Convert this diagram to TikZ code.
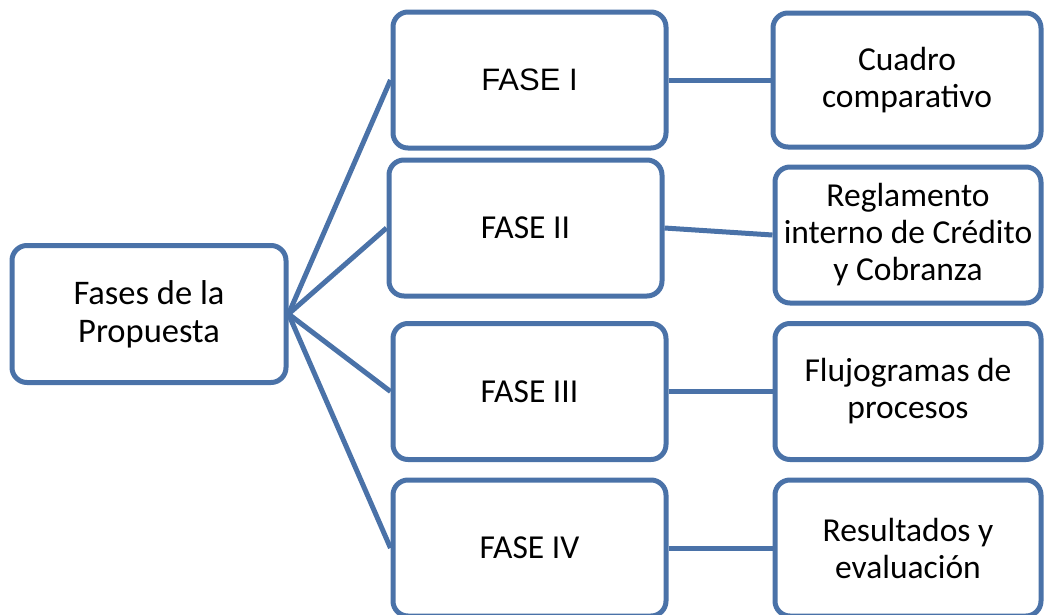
\documentclass[tikz,border=0pt]{standalone}
\usepackage{fontspec}
\setmainfont{Carlito}
\newfontfamily\arialfont{Liberation Sans}
\definecolor{boxblue}{RGB}{74,114,168}
\tikzset{
  fase/.style={draw=boxblue, line width=5pt, rounded corners=15pt, fill=white,
    align=center, font=\fontsize{33.5}{37}\selectfont,
    minimum width=273pt, minimum height=136pt, inner sep=0pt},
  link/.style={draw=boxblue, line width=5pt}
}
\begin{document}
\begin{tikzpicture}[x=1pt, y=-1pt]
      \useasboundingbox (0,0) rectangle (1045,614);
      \path
        (149,314) node[fase, minimum width=274pt, minimum height=137pt, font=\fontsize{34.5}{38}\selectfont] (root){Fases de la\\Propuesta}
        (529.5,80) node[fase, font=\arialfont\fontsize{31}{37}\selectfont] (f1){FASE I}
        (525.5,228) node[fase] (f2){FASE II}
        (529.5,391.5) node[fase] (f3){FASE III}
        (529.5,548) node[fase] (f4){FASE IV}
        (907,80) node[fase, minimum width=268pt, minimum height=134pt] (r1){Cuadro\\comparativo}
        (908,235) node[fase, minimum width=266pt] (r2){Reglamento\\interno de Crédito\\y Cobranza}
        (908,391.5) node[fase, minimum width=266pt] (r3){Flujogramas de\\procesos}
        (908,548) node[fase, minimum width=266pt] (r4){Resultados y\\evaluación};
      \begin{scope}[link]
        \draw (root.east) to (f1.west);
        \draw (root.east) to (f2.west);
        \draw (root.east) to (f3.west);
        \draw (root.east) to (f4.west);
        \draw (f1.east) to (r1.west);
        \draw (f2.east) to (r2.west);
        \draw (f3.east) to (r3.west);
        \draw (f4.east) to (r4.west);
      \end{scope}
    \end{tikzpicture}
\end{document}
